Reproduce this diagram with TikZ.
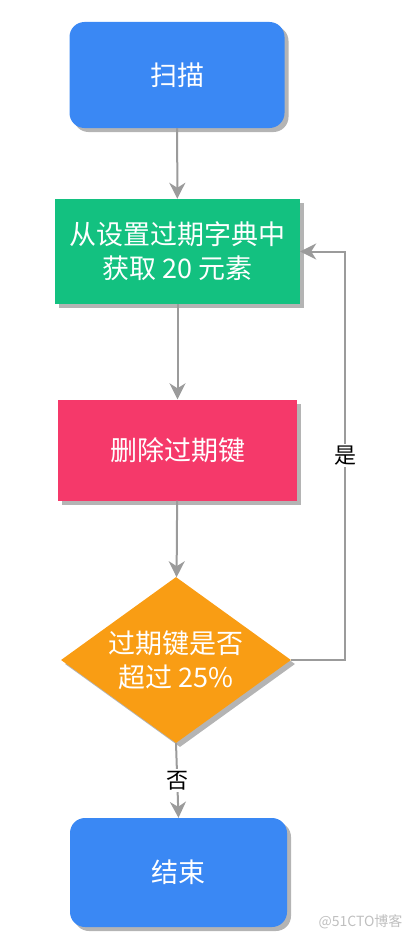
\documentclass[tikz,border=0pt]{standalone}
\usepackage{fontspec}
\newfontfamily\cjk{Noto Sans CJK SC}
\usetikzlibrary{shapes.geometric,shadows,arrows.meta}
\definecolor{cblue}{HTML}{3A88F4}
\definecolor{cgreen}{HTML}{13C180}
\definecolor{cpink}{HTML}{F5396A}
\definecolor{corange}{HTML}{F99D14}
\definecolor{cline}{HTML}{9B9B9B}
\definecolor{cshadow}{HTML}{B4B4B4}
\begin{document}
\begin{tikzpicture}[x=1pt,y=-1pt,
  box/.style={draw=none, text=white, font=\cjk\fontsize{27}{34}\selectfont, align=center, inner sep=0pt,
    drop shadow={shadow xshift=4pt, shadow yshift=-4pt, fill=cshadow, opacity=1}},
  term/.style={box, rectangle, rounded corners=15pt, fill=cblue, minimum width=215pt, minimum height=106pt},
  proc/.style={box, rectangle, minimum width=242pt, minimum height=103pt},
  dec/.style={box, diamond, fill=corange, minimum width=230pt, minimum height=166pt, aspect=1.386},
  conn/.style={draw=cline, line width=2pt, -{Stealth[length=16pt,width=16pt,inset=5pt]}},
  lbl/.style={fill=white, text=black, font=\cjk\fontsize{22}{24}\selectfont, inner sep=2pt}
]
\useasboundingbox (0,0) rectangle (414,942);
\node[term] (start) at (177,75) {扫描};
\node[proc, fill=cgreen, minimum width=245pt, minimum height=105pt] (fetch) at (177.5,251.5) {从设置过期字典中\\获取 20 元素};
\node[proc, fill=cpink, minimum width=239pt, minimum height=101pt] (del) at (177.5,450) {删除过期键};
\node[dec] (check) at (176,660) {过期键是否\\超过 25\%};
\node[term, minimum width=217pt, minimum height=109pt] (end) at (178.5,872.5) {结束};
\coordinate (loopx) at (345,0);
\draw[conn] (start) -- (fetch);
\draw[conn] (fetch) -- (del);
\draw[conn] (del) -- (check);
\draw[conn] (check.east) -- (check.east -| loopx) -- node[lbl, pos=0.5] (yes) {是} (fetch.east -| loopx) -- (fetch.east);
\draw[conn] (check.south) -- node[lbl] (no) {否} (end.north);
\node[text=black!25, font=\cjk\fontsize{14}{16}\selectfont, anchor=east] (wm) at (406,922) {@51CTO博客};
\end{tikzpicture}
\end{document}
